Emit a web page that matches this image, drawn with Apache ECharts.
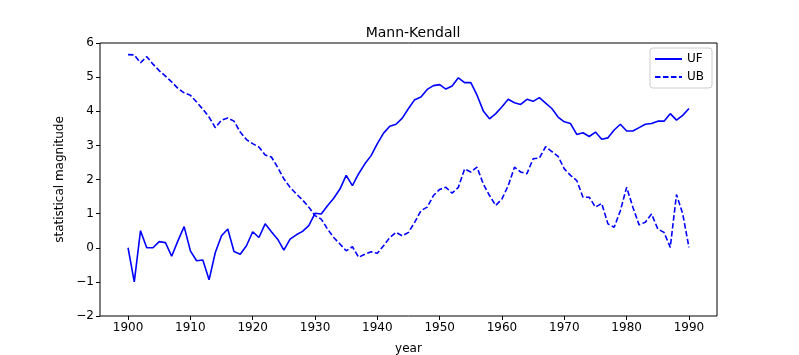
<!DOCTYPE html>
<html>
<head>
<meta charset="utf-8">
<script src="https://cdn.jsdelivr.net/npm/echarts@6/dist/echarts.min.js"></script>
<style>
html,body{margin:0;padding:0;background:#fff;}
#chart{width:799px;height:355px;}
</style>
</head>
<body>
<div id="chart"></div>
<script>
const years = [];
for (let y = 1900; y <= 1990; y++) years.push(y);

const UF = [
  0.00, -1.00, 0.50, 0.00, 0.00, 0.18, 0.15, -0.25, 0.20, 0.62,
  -0.09, -0.38, -0.36, -0.94, -0.14, 0.35, 0.55, -0.11, -0.19, 0.06,
  0.47, 0.30, 0.70, 0.47, 0.25, -0.07, 0.25, 0.38, 0.48, 0.65,
  1.01, 0.99, 1.23, 1.45, 1.72, 2.12, 1.82, 2.17, 2.46, 2.70,
  3.05, 3.36, 3.56, 3.62, 3.80, 4.08, 4.34, 4.42, 4.64, 4.75,
  4.78, 4.65, 4.74, 4.98, 4.84, 4.84, 4.47, 4.01, 3.78, 3.93,
  4.13, 4.35, 4.25, 4.20, 4.35, 4.29, 4.40, 4.24, 4.08, 3.83,
  3.69, 3.64, 3.32, 3.37, 3.26, 3.39, 3.18, 3.22, 3.45, 3.62,
  3.42, 3.42, 3.52, 3.62, 3.64, 3.71, 3.71, 3.93, 3.74, 3.88,
  4.08
];

const UB = [
  5.66, 5.65, 5.42, 5.60, 5.38, 5.19, 5.03, 4.86, 4.67, 4.54,
  4.47, 4.27, 4.06, 3.83, 3.52, 3.74, 3.80, 3.71, 3.39, 3.17,
  3.05, 2.95, 2.72, 2.66, 2.36, 2.02, 1.77, 1.58, 1.40, 1.19,
  0.94, 0.84, 0.55, 0.30, 0.11, -0.09, 0.03, -0.28, -0.19, -0.12,
  -0.16, 0.06, 0.30, 0.45, 0.35, 0.45, 0.75, 1.09, 1.19, 1.53,
  1.71, 1.77, 1.60, 1.77, 2.31, 2.22, 2.36, 1.87, 1.53, 1.24,
  1.43, 1.82, 2.36, 2.22, 2.17, 2.61, 2.63, 2.96, 2.82, 2.68,
  2.31, 2.12, 1.97, 1.48, 1.48, 1.19, 1.30, 0.70, 0.60, 1.09,
  1.77, 1.19, 0.67, 0.75, 0.99, 0.55, 0.45, 0.01, 1.56, 0.99,
  0.01
];

const xTicks = [1900, 1910, 1920, 1930, 1940, 1950, 1960, 1970, 1980, 1990];
const yTicks = [-2, -1, 0, 1, 2, 3, 4, 5, 6];

const FONT = 'DejaVu Sans';
const chart = echarts.init(document.getElementById('chart'), null, {renderer: 'canvas'});
chart.setOption({
  animation: false,
  backgroundColor: '#fff',
  textStyle: {fontFamily: FONT},
  title: {
    text: 'Mann-Kendall',
    left: 408, top: 21, textAlign: 'center',
    textStyle: {fontFamily: FONT, fontSize: 14, fontWeight: 'normal', color: '#000'}
  },
  legend: {
    data: ['UF', 'UB'],
    orient: 'vertical',
    right: 87, top: 48,
    itemWidth: 27, itemHeight: 10, itemGap: 6,
    padding: [5, 8, 5, 4],
    borderColor: '#cccccc', borderWidth: 1, borderRadius: 3,
    backgroundColor: 'rgba(255,255,255,0.8)',
    itemStyle: {color: 'transparent', borderColor: 'transparent', borderWidth: 0},
    textStyle: {fontFamily: FONT, fontSize: 12, color: '#000'}
  },
  grid: {
    left: 100, top: 43, right: 82, bottom: 39,
    outerBoundsMode: 'none',
    show: true, borderColor: '#000', borderWidth: 1, backgroundColor: 'transparent'
  },
  xAxis: {
    type: 'value', min: 1895.5, max: 1994.5,
    name: 'year', nameLocation: 'middle', nameGap: 27,
    nameTextStyle: {fontFamily: FONT, fontSize: 12, color: '#000'},
    axisLine: {show: false, onZero: false},
    splitLine: {show: false},
    axisTick: {show: true, inside: false, length: 4, customValues: xTicks, lineStyle: {color: '#000'}},
    axisLabel: {customValues: xTicks, fontFamily: FONT, fontSize: 12, color: '#000', margin: 6,
      formatter: v => String(v)}
  },
  yAxis: {
    type: 'value', min: -2, max: 6, interval: 1,
    name: 'statistical magnitude', nameLocation: 'middle', nameGap: 29,
    nameTextStyle: {fontFamily: FONT, fontSize: 12, color: '#000'},
    axisLine: {show: false, onZero: false},
    splitLine: {show: false},
    axisTick: {show: true, inside: false, length: 4, lineStyle: {color: '#000'}},
    axisLabel: {
      fontFamily: FONT, fontSize: 12, color: '#000', margin: 6,
      formatter: v => String(v).replace('-', '\u2212')
    }
  },
  series: [
    {
      name: 'UF', type: 'line', showSymbol: false, symbol: 'none',
      data: years.map((y, i) => [y, UF[i]]),
      lineStyle: {color: '#0000ff', width: 1.6, type: 'solid'},
      itemStyle: {color: '#0000ff'}
    },
    {
      name: 'UB', type: 'line', showSymbol: false, symbol: 'none',
      data: years.map((y, i) => [y, UB[i]]),
      lineStyle: {color: '#0000ff', width: 1.6, type: [5.5, 2.5]},
      itemStyle: {color: '#0000ff'}
    }
  ]
});
</script>
</body>
</html>
